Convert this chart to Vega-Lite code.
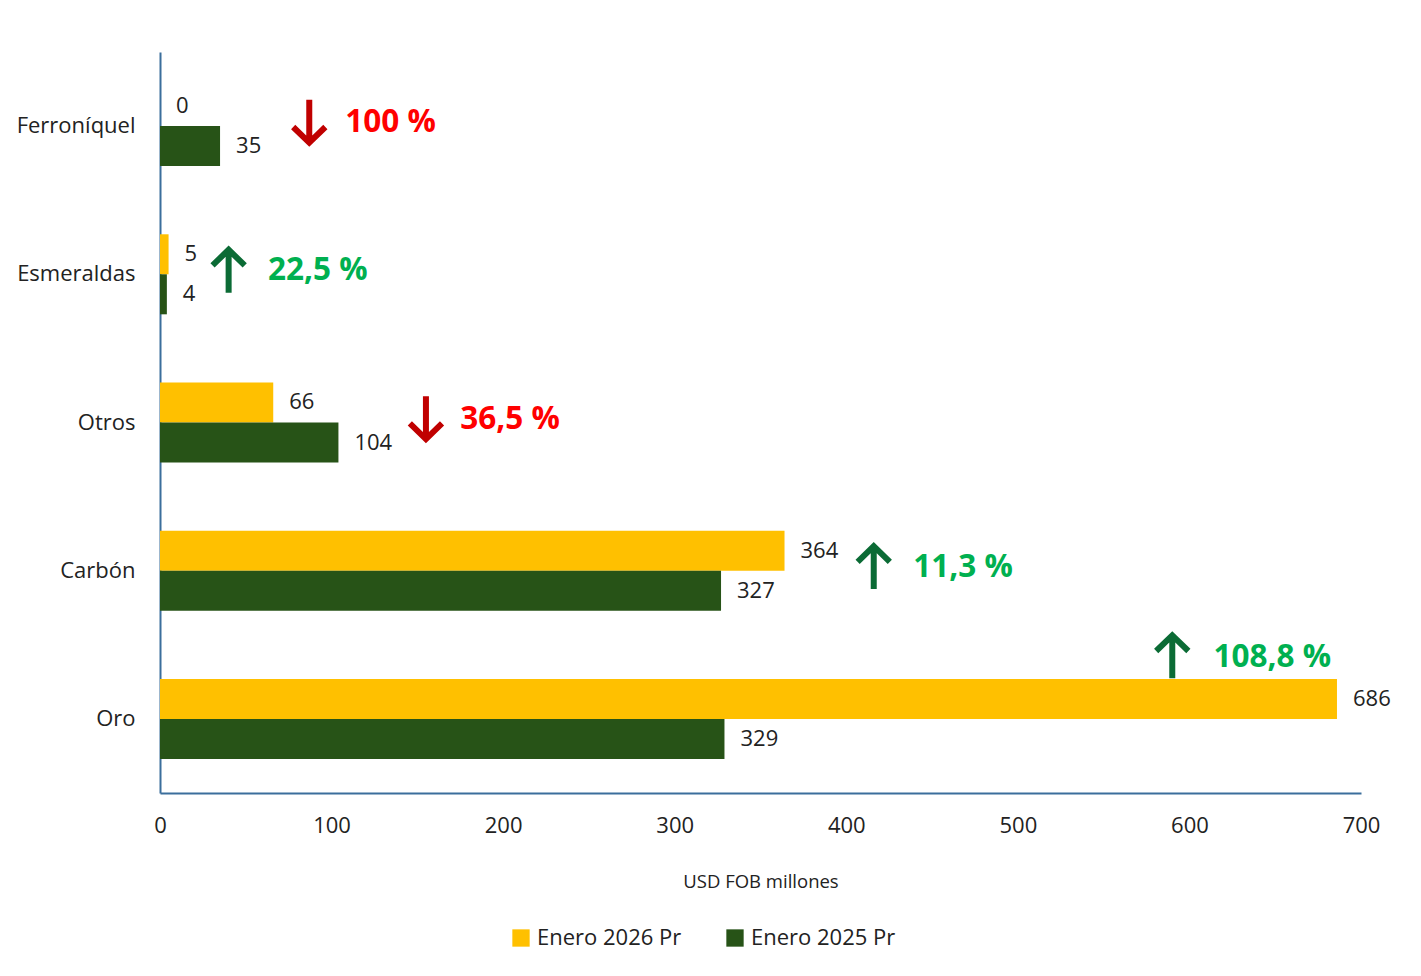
{
  "$schema": "https://vega.github.io/schema/vega-lite/v6.json",
  "autosize": {"type": "none"},
  "width": 1201,
  "height": 741,
  "padding": {"left": 160, "top": 52, "right": 60, "bottom": 183},
  "background": "white",
  "config": {
    "font": "Open Sans",
    "view": {"stroke": null},
    "axis": {"labelFont": "Open Sans", "titleFont": "Open Sans", "labelColor": "#222222", "titleColor": "#222222"},
    "legend": {"labelFont": "Open Sans"}
  },
  "datasets": {
    "bars": [
      {"producto": "Ferroníquel", "serie": "Enero 2026 Pr", "valor": 0},
      {"producto": "Ferroníquel", "serie": "Enero 2025 Pr", "valor": 35},
      {"producto": "Esmeraldas", "serie": "Enero 2026 Pr", "valor": 5},
      {"producto": "Esmeraldas", "serie": "Enero 2025 Pr", "valor": 4},
      {"producto": "Otros", "serie": "Enero 2026 Pr", "valor": 66},
      {"producto": "Otros", "serie": "Enero 2025 Pr", "valor": 104},
      {"producto": "Carbón", "serie": "Enero 2026 Pr", "valor": 364},
      {"producto": "Carbón", "serie": "Enero 2025 Pr", "valor": 327},
      {"producto": "Oro", "serie": "Enero 2026 Pr", "valor": 686},
      {"producto": "Oro", "serie": "Enero 2025 Pr", "valor": 329}
    ],
    "notes": [
      {"producto": "Ferroníquel", "xFlecha": 87, "xTexto": 108, "dir": "baja", "var": "100 %"},
      {"producto": "Esmeraldas", "xFlecha": 40, "xTexto": 63, "dir": "sube", "var": "22,5 %"},
      {"producto": "Otros", "xFlecha": 155, "xTexto": 175, "dir": "baja", "var": "36,5 %"},
      {"producto": "Carbón", "xFlecha": 416, "xTexto": 439, "dir": "sube", "var": "11,3 %"},
      {"producto": "Oro", "xFlecha": 590, "xTexto": 614, "dir": "sube", "var": "108,8 %"}
    ]
  },
  "resolve": {"scale": {"color": "independent", "shape": "independent"}},
  "layer": [
    {
      "data": {"name": "bars"},
      "mark": {"type": "bar"},
      "encoding": {
        "y": {"field": "producto", "type": "nominal", "sort": ["Ferroníquel", "Esmeraldas", "Otros", "Carbón", "Oro"],
              "scale": {"paddingInner": 0.46, "paddingOuter": 0.23},
              "axis": {"title": null, "labelFontSize": 22, "labelPadding": 25, "ticks": false, "domainColor": "#3B6E9C", "domainWidth": 2}},
        "x": {"field": "valor", "type": "quantitative", "scale": {"domain": [0, 700]},
              "axis": {"title": "USD FOB millones", "values": [0, 100, 200, 300, 400, 500, 600, 700], "grid": false, "ticks": false,
                       "labelFlush": false, "labelBound": false, "labelOverlap": false,
                       "labelFontSize": 22, "labelPadding": 22, "titleFontSize": 18.5, "titleFontWeight": "normal", "titlePadding": 36,
                       "domainColor": "#3B6E9C", "domainWidth": 2}},
        "yOffset": {"field": "serie", "type": "nominal", "sort": ["Enero 2026 Pr", "Enero 2025 Pr"], "scale": {"paddingInner": 0}},
        "color": {"field": "serie", "type": "nominal", "sort": ["Enero 2026 Pr", "Enero 2025 Pr"],
                  "scale": {"domain": ["Enero 2026 Pr", "Enero 2025 Pr"], "range": ["#FFC000", "#275317"]},
                  "legend": {"title": null, "orient": "none", "legendX": 350, "legendY": 875, "direction": "horizontal",
                             "symbolType": "square", "symbolSize": 300, "labelFontSize": 22, "labelColor": "#222222",
                             "columnPadding": 42, "labelOffset": 5, "symbolStrokeWidth": 0}}
      }
    },
    {
      "data": {"name": "bars"},
      "mark": {"type": "text", "align": "left", "baseline": "middle", "dx": 16, "fontSize": 22, "fill": "#222222"},
      "encoding": {
        "y": {"field": "producto", "type": "nominal", "sort": ["Ferroníquel", "Esmeraldas", "Otros", "Carbón", "Oro"]},
        "x": {"field": "valor", "type": "quantitative"},
        "yOffset": {"field": "serie", "type": "nominal", "sort": ["Enero 2026 Pr", "Enero 2025 Pr"]},
        "text": {"field": "valor", "type": "quantitative"}
      }
    },
    {
      "data": {"name": "notes"},
      "transform": [{"filter": "datum.producto !== 'Oro'"}],
      "mark": {"type": "point", "filled": false, "strokeWidth": 6, "strokeJoin": "miter", "strokeCap": "butt", "size": 2000, "yOffset": -4, "opacity": 1},
      "encoding": {
        "y": {"field": "producto", "type": "nominal", "sort": ["Ferroníquel", "Esmeraldas", "Otros", "Carbón", "Oro"]},
        "x": {"field": "xFlecha", "type": "quantitative"},
        "shape": {"field": "dir", "type": "nominal", "scale": {"domain": ["sube", "baja"], "range": ["M0,1L0,-0.92M-0.72,-0.22L0,-0.92L0.72,-0.22", "M0,-1L0,0.92M-0.72,0.22L0,0.92L0.72,0.22"]}, "legend": null},
        "color": {"field": "dir", "type": "nominal", "scale": {"domain": ["sube", "baja"], "range": ["#0B6B35", "#C00000"]}, "legend": null}
      }
    },
    {
      "data": {"name": "notes"},
      "transform": [{"filter": "datum.producto === 'Oro'"}],
      "mark": {"type": "point", "filled": false, "strokeWidth": 6, "strokeJoin": "miter", "strokeCap": "butt", "size": 2000, "yOffset": -63, "opacity": 1},
      "encoding": {
        "y": {"field": "producto", "type": "nominal", "sort": ["Ferroníquel", "Esmeraldas", "Otros", "Carbón", "Oro"]},
        "x": {"field": "xFlecha", "type": "quantitative"},
        "shape": {"field": "dir", "type": "nominal", "scale": {"domain": ["sube", "baja"], "range": ["M0,1L0,-0.92M-0.72,-0.22L0,-0.92L0.72,-0.22", "M0,-1L0,0.92M-0.72,0.22L0,0.92L0.72,0.22"]}, "legend": null},
        "color": {"field": "dir", "type": "nominal", "scale": {"domain": ["sube", "baja"], "range": ["#0B6B35", "#C00000"]}, "legend": null}
      }
    },
    {
      "data": {"name": "notes"},
      "transform": [{"filter": "datum.producto !== 'Oro'"}],
      "mark": {"type": "text", "align": "left", "baseline": "middle", "dy": -3, "fontWeight": "bold", "fontSize": 31.5},
      "encoding": {
        "y": {"field": "producto", "type": "nominal", "sort": ["Ferroníquel", "Esmeraldas", "Otros", "Carbón", "Oro"]},
        "x": {"field": "xTexto", "type": "quantitative"},
        "text": {"field": "var"},
        "color": {"field": "dir", "type": "nominal", "scale": {"domain": ["sube", "baja"], "range": ["#00B050", "#FF0000"]}, "legend": null}
      }
    },
    {
      "data": {"name": "notes"},
      "transform": [{"filter": "datum.producto === 'Oro'"}],
      "mark": {"type": "text", "align": "left", "baseline": "middle", "dy": -61, "fontWeight": "bold", "fontSize": 31.5},
      "encoding": {
        "y": {"field": "producto", "type": "nominal", "sort": ["Ferroníquel", "Esmeraldas", "Otros", "Carbón", "Oro"]},
        "x": {"field": "xTexto", "type": "quantitative"},
        "text": {"field": "var"},
        "color": {"field": "dir", "type": "nominal", "scale": {"domain": ["sube", "baja"], "range": ["#00B050", "#FF0000"]}, "legend": null}
      }
    }
  ]
}
